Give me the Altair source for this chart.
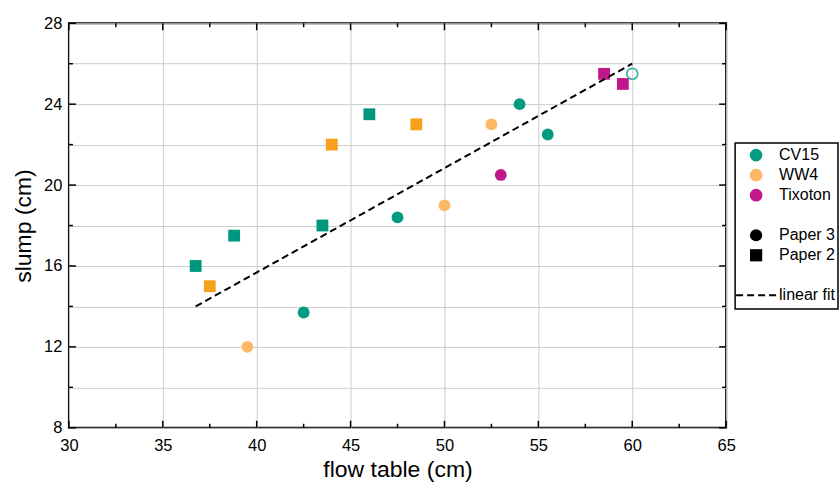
import altair as alt
import pandas as pd

# ---------------- data ----------------
# Paper 3 (circles)
p3_cv15_x = [42.5, 47.5, 54.0, 55.5]
p3_cv15_y = [13.7, 18.4, 24.0, 22.5]
p3_ww4_x = [39.5, 50.0, 52.5]
p3_ww4_y = [12.0, 19.0, 23.0]
p3_tix_x = [53.0]
p3_tix_y = [20.5]
# Paper 2 (squares)
p2_cv15_x = [36.75, 38.8, 43.5, 46.0]
p2_cv15_y = [16.0, 17.5, 18.0, 23.5]
p2_ww4_x = [37.5, 44.0, 48.5]
p2_ww4_y = [15.0, 22.0, 23.0]
p2_tix_x = [58.5, 59.5]
p2_tix_y = [25.5, 25.0]
# open circle
open_x = [60.0]
open_y = [25.5]
# linear fit
fit_x = [36.75, 60.0]
fit_y = [14.0, 26.0]

x_ticks = [30, 35, 40, 45, 50, 55, 60, 65]
x_minor = [32.5, 37.5, 42.5, 47.5, 52.5, 57.5, 62.5]
y_grid = [8, 10, 12, 14, 16, 18, 20, 22, 24, 26, 28]
y_major = [8, 12, 16, 20, 24, 28]
y_minor = [10, 14, 18, 22, 26]

legend_materials = ["CV15", "WW4", "Tixoton"]
legend_papers = ["Paper 3", "Paper 2"]
legend_fit = ["linear fit"]

# ---------------- styles ----------------
FONT = "Liberation Sans"
W, H = 658, 405
c_teal = "#009B80"
c_teal_sq = "#00977F"
c_orange_sq = "#F6A01E"
c_orange_c = "#FDB863"
c_mag = "#C0178B"

groups = {
    "CV15 P3": (p3_cv15_x, p3_cv15_y, "circle", c_teal),
    "WW4 P3": (p3_ww4_x, p3_ww4_y, "circle", c_orange_c),
    "Tix P3": (p3_tix_x, p3_tix_y, "circle", c_mag),
    "CV15 P2": (p2_cv15_x, p2_cv15_y, "square", c_teal_sq),
    "WW4 P2": (p2_ww4_x, p2_ww4_y, "square", c_orange_sq),
    "Tix P2": (p2_tix_x, p2_tix_y, "square", c_mag),
}
rows = []
for g, (xs, ys, shp, col) in groups.items():
    for a, b in zip(xs, ys):
        rows.append({"x": a, "y": b, "group": g, "shape": shp})
pts = pd.DataFrame(rows)

xscale = alt.Scale(domain=[30, 65], nice=False, zero=False)
yscale = alt.Scale(domain=[8, 28], nice=False, zero=False)

base_x = alt.X("x:Q", scale=xscale,
               axis=alt.Axis(values=x_ticks, title="flow table (cm)", grid=True,
                             gridColor="#cccccc", gridWidth=1, domain=False,
                             ticks=False, tickSize=0, labelFlush=False,
                             labelFont=FONT, labelFontSize=16.5, labelColor="black",
                             labelPadding=10, titleFont=FONT, titleFontSize=23,
                             titleFontWeight="normal", titleColor="black",
                             titlePadding=4))
base_y = alt.Y("y:Q", scale=yscale,
               axis=alt.Axis(values=y_grid, title="slump (cm)", grid=True,
                             gridColor="#cccccc", gridWidth=1, domain=False,
                             ticks=False, tickSize=0, labelFlush=False,
                             labelExpr="datum.value % 4 == 0 ? datum.label : ''",
                             labelFont=FONT, labelFontSize=16.5, labelColor="black",
                             labelPadding=7, titleFont=FONT, titleFontSize=23,
                             titleFontWeight="normal", titleColor="black",
                             titlePadding=8))

points = alt.Chart(pts).mark_point(filled=True, opacity=1, size=140).encode(
    x=base_x, y=base_y,
    color=alt.Color("group:N", scale=alt.Scale(domain=list(groups.keys()),
                    range=[v[3] for v in groups.values()]), legend=None),
    shape=alt.Shape("shape:N", scale=alt.Scale(domain=["circle", "square"],
                    range=["circle", "square"]), legend=None),
)

open_pt = alt.Chart(pd.DataFrame({"x": open_x, "y": open_y})).mark_point(
    shape="circle", filled=False, size=120, strokeWidth=1.8, color="#3DB59F",
    opacity=1).encode(x="x:Q", y="y:Q")

fit = alt.Chart(pd.DataFrame({"x": fit_x, "y": fit_y})).mark_line(
    color="black", strokeWidth=2, strokeDash=[7, 4]).encode(x="x:Q", y="y:Q")

# ticks (inward) drawn through the scales
xt_major = pd.DataFrame({"x": x_ticks})
xt_minor = pd.DataFrame({"x": x_minor})
yt_major = pd.DataFrame({"y": y_major})
yt_minor = pd.DataFrame({"y": y_minor})
tk = dict(color="black", strokeWidth=1.5)
ticks = [
    alt.Chart(xt_major).mark_rule(**tk).encode(x="x:Q", y=alt.value(H), y2=alt.value(H - 7)),
    alt.Chart(xt_minor).mark_rule(**tk).encode(x="x:Q", y=alt.value(H), y2=alt.value(H - 4)),
    alt.Chart(xt_major).mark_rule(**tk).encode(x="x:Q", y=alt.value(0), y2=alt.value(7)),
    alt.Chart(xt_minor).mark_rule(**tk).encode(x="x:Q", y=alt.value(0), y2=alt.value(4)),
    alt.Chart(yt_major).mark_rule(**tk).encode(y="y:Q", x=alt.value(0), x2=alt.value(7)),
    alt.Chart(yt_minor).mark_rule(**tk).encode(y="y:Q", x=alt.value(0), x2=alt.value(4)),
    alt.Chart(yt_major).mark_rule(**tk).encode(y="y:Q", x=alt.value(W), x2=alt.value(W - 7)),
    alt.Chart(yt_minor).mark_rule(**tk).encode(y="y:Q", x=alt.value(W), x2=alt.value(W - 4)),
]

main = alt.layer(points, fit, open_pt, *ticks).properties(
    width=W, height=H,
    view=alt.ViewBackground(stroke="black", strokeWidth=2))

# ---------------- legend panel ----------------
LW, LH = 103, 166
lscale = alt.Scale(domain=[7.677, -0.598], nice=False, zero=False)
leg_mat = pd.DataFrame({"label": legend_materials, "row": [0, 1, 2]})
leg_pap = pd.DataFrame({"label": legend_papers, "row": [4, 5],
                        "shape": ["circle", "square"]})
leg_fit = pd.DataFrame({"label": legend_fit, "row": [7]})
leg_text = pd.DataFrame({"label": legend_materials + legend_papers + legend_fit,
                         "row": [0, 1, 2, 4, 5, 7]})
ly = alt.Y("row:Q", scale=lscale, axis=None)

l_mat = alt.Chart(leg_mat).mark_point(filled=True, opacity=1, size=160).encode(
    x=alt.value(21), y=ly,
    color=alt.Color("label:N", scale=alt.Scale(domain=legend_materials,
                    range=[c_teal, c_orange_c, c_mag]), legend=None),
    shape=alt.value("circle"))
l_pap = alt.Chart(leg_pap).mark_point(filled=True, opacity=1, size=150, color="black").encode(
    x=alt.value(21), y=ly,
    shape=alt.Shape("shape:N", scale=alt.Scale(domain=["circle", "square"],
                    range=["circle", "square"]), legend=None))
l_fit = alt.Chart(leg_fit).mark_rule(color="black", strokeWidth=2, strokeDash=[7, 4]).encode(
    x=alt.value(1), x2=alt.value(41), y=ly)
l_txt = alt.Chart(leg_text).mark_text(align="left", baseline="middle", font=FONT,
                                       fontSize=16, color="black").encode(
    x=alt.value(44), y=ly, text="label:N")

legend_panel = alt.layer(l_mat, l_pap, l_fit, l_txt).properties(
    width=LW, height=LH,
    view=alt.ViewBackground(stroke="black", strokeWidth=1.5))

spacer = alt.Chart(pd.DataFrame({"a": [0]})).mark_text(text="").encode(
    x=alt.value(0), y=alt.value(0)).properties(
    width=LW, height=120, view=alt.ViewBackground(stroke="transparent"))

right = alt.vconcat(spacer, legend_panel, spacing=0, bounds="flush")

chart = alt.hconcat(main, right, spacing=9, bounds="flush").properties(
    padding={"left": 11, "top": 14, "right": 0, "bottom": 0},
    background="white",
).configure_view(stroke=None)

chart.save("out.html", embed_options={"renderer": "svg", "actions": False})
